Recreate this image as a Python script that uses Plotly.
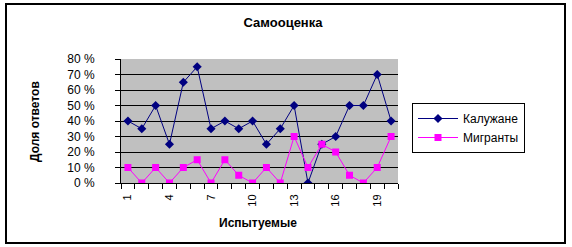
import plotly.graph_objects as go

subjects = list(range(1, 21))
kaluzhane = [0.40, 0.35, 0.50, 0.25, 0.65, 0.75, 0.35, 0.40, 0.35, 0.40,
             0.25, 0.35, 0.50, 0.00, 0.25, 0.30, 0.50, 0.50, 0.70, 0.40]
migranty = [0.10, 0.00, 0.10, 0.00, 0.10, 0.15, 0.00, 0.15, 0.05, 0.00,
            0.10, 0.00, 0.30, 0.10, 0.25, 0.20, 0.05, 0.00, 0.10, 0.30]
x_tick_vals = [1, 4, 7, 10, 13, 16, 19]
y_tick_vals = [0, 0.1, 0.2, 0.3, 0.4, 0.5, 0.6, 0.7, 0.8]
y_tick_text = ["0 %", "10 %", "20 %", "30 %", "40 %", "50 %", "60 %", "70 %", "80 %"]

FONT = "Arial, Liberation Sans, sans-serif"

fig = go.Figure()
fig.add_trace(go.Scatter(x=subjects, y=kaluzhane, name="Калужане", mode="lines+markers",
                         line=dict(color="#000080", width=1),
                         marker=dict(symbol="diamond", size=7, color="#000080")))
fig.add_trace(go.Scatter(x=subjects, y=migranty, name="Мигранты", mode="lines+markers",
                         line=dict(color="#FF00FF", width=1),
                         marker=dict(symbol="square", size=7, color="#FF00FF")))
# invisible trace for boundary tick axis
fig.add_trace(go.Scatter(x=[0.5, 20.5], y=[0, 0], xaxis="x2", mode="markers",
                         marker=dict(opacity=0), showlegend=False, hoverinfo="skip"))

W, H = 572, 247
L, R, T, B = 121, 174, 59, 64
pw, ph = W - L - R, H - T - B

def px_x(px):
    return (px - L) / pw

def px_y(py):
    return (H - B - py) / ph

fig.update_layout(
    width=W, height=H,
    margin=dict(l=L, r=R, t=T, b=B),
    paper_bgcolor="white",
    plot_bgcolor="#C0C0C0",
    font=dict(family=FONT, size=12, color="black"),
    showlegend=True,
    legend=dict(x=px_x(412), y=px_y(103), xanchor="left", yanchor="top",
                bordercolor="black", borderwidth=1, bgcolor="white",
                font=dict(size=12), tracegroupgap=0, itemwidth=40),
    xaxis=dict(range=[0.5, 20.5], tickmode="array", tickvals=x_tick_vals,
               ticktext=[str(v) for v in x_tick_vals], tickangle=-90,
               ticks="", showgrid=False, zeroline=False,
               showline=True, linecolor="black", linewidth=1,
               tickfont=dict(size=11), ticklabelstandoff=6),
    xaxis2=dict(range=[0.5, 20.5], overlaying="x", side="bottom", anchor="y",
                tickmode="linear", tick0=0.5, dtick=1, ticks="outside", ticklen=5,
                tickcolor="black", showticklabels=False, showgrid=False,
                zeroline=False, showline=False),
    yaxis=dict(range=[0, 0.8], tickmode="array", tickvals=y_tick_vals, ticktext=y_tick_text,
               ticks="outside", ticklen=5, tickcolor="black",
               showgrid=True, gridcolor="black", gridwidth=1, zeroline=False,
               showline=True, linecolor="black", linewidth=1,
               tickfont=dict(size=12), ticklabelstandoff=18),
    title=dict(text="<b>Самооценка</b>", x=283 / W, y=1 - 22 / H, xanchor="center",
               yanchor="middle", xref="container", yref="container",
               font=dict(size=13, family=FONT)),
    annotations=[
        dict(text="<b>Доля ответов</b>", x=px_x(35), y=0.5, xref="paper", yref="paper",
             textangle=-90, showarrow=False, font=dict(size=12), xanchor="center", yanchor="middle"),
        dict(text="<b>Испытуемые</b>", x=px_x(258), y=px_y(223), xref="paper", yref="paper",
             showarrow=False, font=dict(size=12), xanchor="center", yanchor="middle"),
    ],
    shapes=[
        dict(type="rect", xref="paper", yref="paper",
             x0=px_x(6), x1=px_x(565), y0=px_y(243), y1=px_y(4),
             line=dict(color="black", width=2), fillcolor="rgba(0,0,0,0)", layer="below"),
    ],
)

fig.write_html("out.html")
